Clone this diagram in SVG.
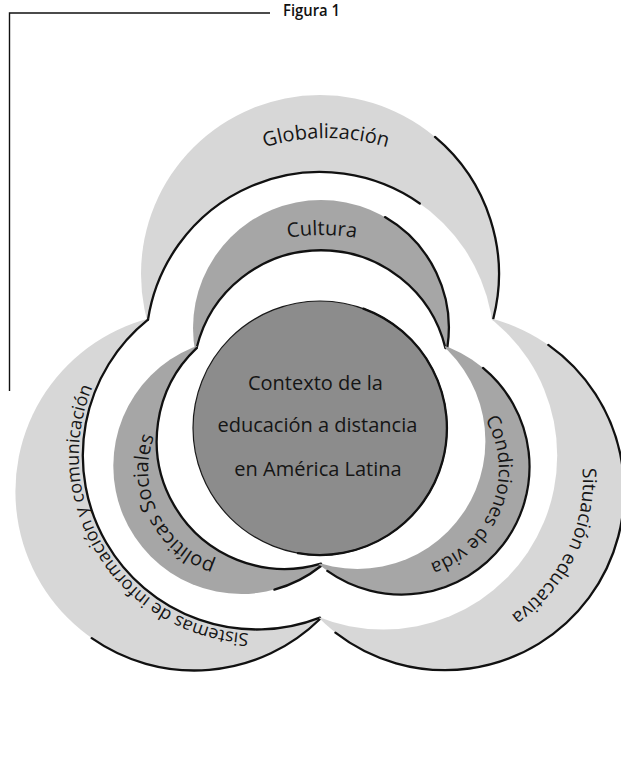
<svg xmlns="http://www.w3.org/2000/svg" width="621" height="764" viewBox="0 0 621 764">
  <style>
    .lbl{font-family:"Open Sans","Noto Sans","Liberation Sans",sans-serif;font-size:20px;fill:#151515}
    .cap{font-family:"Open Sans","Noto Sans","Liberation Sans",sans-serif;font-size:16px;font-weight:600;fill:#111}
    .outer{fill:#d7d7d7}
    .inner{fill:#a6a6a6}
    .core{fill:#8c8c8c}
    .rim{fill:none;stroke:#111;stroke-width:2.3;stroke-linecap:round}
    .frame{fill:none;stroke:#111;stroke-width:1.4}
  </style>
  <defs>
    <!-- white gap inside the outer ring of lobes -->
    <mask id="outerGap" maskUnits="userSpaceOnUse" x="0" y="0" width="621" height="764">
      <rect width="621" height="764" fill="#fff"/>
      <circle cx="320" cy="346" r="174" fill="#000"/>
      <circle cx="256.8" cy="455.5" r="174" fill="#000"/>
      <circle cx="383.2" cy="455.5" r="174" fill="#000"/>
    </mask>
    <!-- white gap inside the inner ring of lobes -->
    <mask id="innerGap" maskUnits="userSpaceOnUse" x="0" y="0" width="621" height="764">
      <rect width="621" height="764" fill="#fff"/>
      <circle cx="321" cy="378" r="128" fill="#000"/>
      <circle cx="284.6" cy="441" r="128" fill="#000"/>
      <circle cx="357.4" cy="441" r="128" fill="#000"/>
    </mask>
    <!-- label baselines -->
    <path id="pGlob" d="M128.7,276.2 A210,210 0 0 1 523.3,276.2"/>
    <path id="pCult" d="M222,261.8 A200,200 0 0 1 422,261.8"/>
    <path id="pPol" d="M271.7,563.2 A97,97 0 0 1 188,391.5"/>
    <path id="pCond" d="M438.7,379.2 A98,98 0 0 1 368.5,562.1"/>
    <path id="pSist" d="M414.5,538 A178,178 0 1 1 249.3,277.7"/>
    <path id="pSit" d="M464.9,323.3 A163,163 0 1 1 324.2,611.9"/>
  </defs>

  <rect width="621" height="764" fill="#fff"/>

  <g id="connectors">
    <path class="frame" d="M270,13 H9.5 V391"/>
  </g>
  <text class="cap" x="283" y="16" textLength="57" lengthAdjust="spacingAndGlyphs">Figura 1</text>

  <!-- outer ring -->
  <g id="globalizacion">
    <circle class="outer" cx="320" cy="274" r="179" mask="url(#outerGap)"/>
    <path class="rim" d="M148,319.7 A174,174 0 0 1 419.8,203.5"/>
    <path class="rim" d="M435,136.9 A179,179 0 0 1 493.2,319"/>
    <text class="lbl"><textPath href="#pGlob" startOffset="50%" text-anchor="middle">Globalización</textPath></text>
  </g>
  <g id="sistemas">
    <circle class="outer" cx="194.4" cy="491.5" r="179" mask="url(#outerGap)"/>
    <path class="rim" d="M148,319.7 A174,174 0 0 0 320,617.6"/>
    <path class="rim" d="M91.7,638.1 A179,179 0 0 0 320,619"/>
    <text class="lbl" style="font-size:18px"><textPath href="#pSist" startOffset="50%" text-anchor="middle">Sistemas de información y comunicación</textPath></text>
  </g>
  <g id="situacion">
    <circle class="outer" cx="445.6" cy="491.5" r="179" mask="url(#outerGap)"/>
    <path class="rim" d="M548.3,344.9 A179,179 0 1 1 335.4,632.6"/>
    <text class="lbl" style="font-size:19px"><textPath href="#pSit" startOffset="50%" text-anchor="middle">Situación educativa</textPath></text>
  </g>

  <!-- inner ring -->
  <g id="cultura">
    <circle class="inner" cx="321" cy="328" r="128" mask="url(#innerGap)"/>
    <path class="rim" d="M196.6,348.1 A128,128 0 0 1 445.4,348.1"/>
    <path class="rim" d="M385,217.1 A128,128 0 0 1 447.4,347"/>
    <text class="lbl"><textPath href="#pCult" startOffset="50%" text-anchor="middle">Cultura</textPath></text>
  </g>
  <g id="politicas">
    <circle class="inner" cx="241.3" cy="466" r="128" mask="url(#innerGap)"/>
    <path class="rim" d="M196.6,348.1 A128,128 0 0 0 321,563.7"/>
    <path class="rim" d="M274.4,589.6 A128,128 0 0 0 321,566"/>
    <text class="lbl"><textPath href="#pPol" startOffset="50%" text-anchor="middle">políticas Sociales</textPath></text>
  </g>
  <g id="condiciones">
    <circle class="inner" cx="400.7" cy="466" r="128" mask="url(#innerGap)"/>
    <path class="rim" d="M483,367.9 A128,128 0 0 1 327.3,570.9"/>
    <text class="lbl" style="font-size:19px"><textPath href="#pCond" startOffset="50%" text-anchor="middle">Condiciones de vida</textPath></text>
  </g>

  <!-- core -->
  <g id="contexto">
    <circle class="core" cx="320" cy="428" r="127" stroke="#1a1a1a" stroke-width="1.2"/>
    <path class="rim" d="M363.4,308.7 A127,127 0 0 1 297.9,553.1"/>
    <text class="lbl" text-anchor="middle">
      <tspan x="318" y="390">Contexto de la</tspan>
      <tspan x="320" y="432">educación a distancia</tspan>
      <tspan x="318" y="476">en América Latina</tspan>
    </text>
  </g>
</svg>
